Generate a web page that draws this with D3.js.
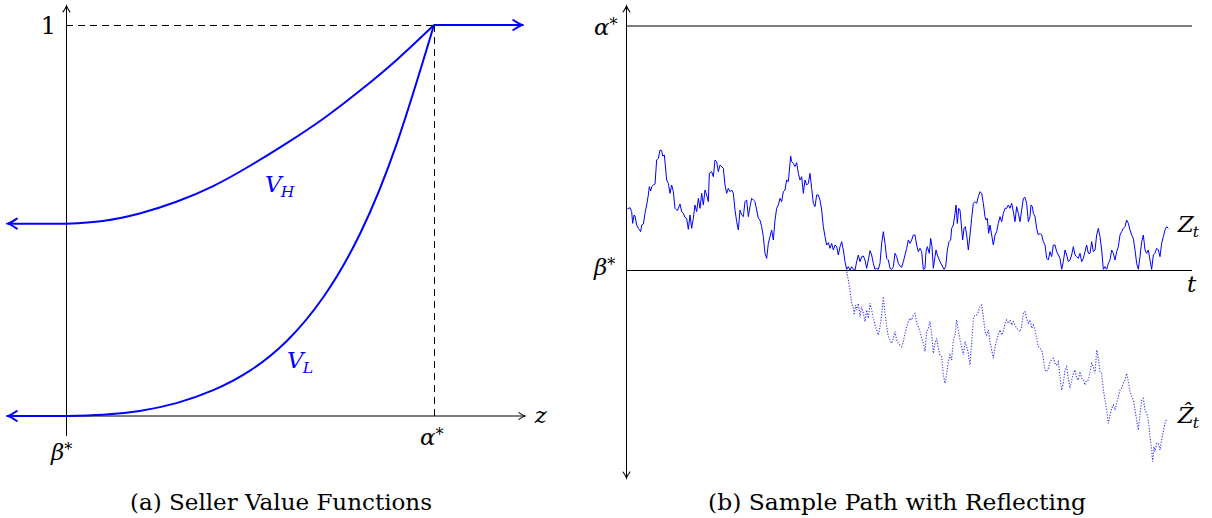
<!DOCTYPE html>
<meta charset="utf-8">
<head>
  <title>Seller value functions and reflected sample path</title>
</head>

<style>
  body {
    margin: 0;
    background: #fff;
  }
</style>

<body>
<svg id="chart" width="1212" height="518"></svg>

<script src="https://cdnjs.cloudflare.com/ajax/libs/d3/7.8.5/d3.min.js"></script>
<script>
  // (a) value functions, z runs from beta* (0) to alpha* (1), value from 0 to 1
  var zGrid = [0, 0.1, 0.2, 0.3, 0.4, 0.5, 0.6, 0.7, 0.8, 0.9, 1];
  var vhValues = [0.492, 0.499, 0.518, 0.548, 0.588, 0.640, 0.698, 0.761, 0.833, 0.912, 1];
  var vlValues = [0, 0.003, 0.013, 0.033, 0.066, 0.116, 0.192, 0.305, 0.468, 0.700, 1];

  // (b) sample path, beta* = 0 and alpha* = alphaLevel
  var alphaLevel = 7.32;
  var tEnd = 16.98;

  // reflected path Z_t  [t, value]
  var zPath = [[0.04,1.83],[0.12,1.87],[0.17,1.75],[0.20,1.40],[0.24,1.65],[0.27,1.62],[0.32,1.35],
    [0.37,1.25],[0.44,1.15],[0.47,1.35],[0.52,1.38],[0.57,1.70],[0.62,1.95],[0.67,2.25],[0.70,2.50],
    [0.74,2.37],[0.77,2.50],[0.82,2.55],[0.87,2.58],[0.92,3.30],[0.97,3.35],[1.02,3.60],[1.07,3.58],
    [1.10,3.42],[1.15,3.45],[1.22,2.70],[1.27,2.60],[1.32,2.30],[1.37,2.55],[1.42,2.35],[1.47,1.85],
    [1.54,1.78],[1.62,1.98],[1.67,1.75],[1.72,1.70],[1.77,1.58],[1.82,1.55],[1.87,1.22],[1.92,1.65],
    [1.97,1.25],[2.02,1.55],[2.07,1.95],[2.12,1.75],[2.17,2.15],[2.22,1.85],[2.27,2.30],[2.32,1.95],
    [2.37,2.40],[2.42,2.25],[2.47,2.05],[2.50,2.90],[2.57,2.95],[2.62,2.80],[2.67,3.30],[2.72,3.25],
    [2.77,2.95],[2.82,3.15],[2.87,3.10],[2.92,3.05],[2.97,2.55],[3.02,2.30],[3.07,2.45],[3.12,2.35],
    [3.17,2.40],[3.22,2.30],[3.27,1.80],[3.32,1.45],[3.37,1.20],[3.42,1.80],[3.47,1.65],[3.52,1.60],
    [3.57,2.05],[3.62,2.10],[3.67,1.60],[3.72,1.90],[3.77,2.15],[3.82,2.10],[3.87,2.05],[3.92,1.80],
    [3.97,1.55],[4.02,1.50],[4.07,1.30],[4.12,1.00],[4.17,0.50],[4.22,0.35],[4.27,0.80],[4.32,1.00],
    [4.37,1.20],[4.42,0.90],[4.47,1.50],[4.52,1.85],[4.57,1.95],[4.62,2.15],[4.67,2.05],[4.72,2.35],
    [4.77,2.40],[4.82,2.70],[4.87,2.65],[4.92,3.20],[4.94,3.42],[4.97,3.25],[5.02,3.20],[5.07,3.10],
    [5.12,3.22],[5.17,2.90],[5.22,2.70],[5.27,2.80],[5.32,2.30],[5.37,2.70],[5.42,2.55],[5.47,2.60],
    [5.52,2.90],[5.57,2.45],[5.62,2.00],[5.67,1.90],[5.72,2.25],[5.77,2.25],[5.82,2.10],[5.87,1.80],
    [5.92,1.30],[5.97,1.00],[6.02,0.75],[6.07,0.82],[6.12,0.65],[6.17,0.80],[6.22,0.60],[6.27,0.75],
    [6.32,0.70],[6.37,0.45],[6.42,0.70],[6.47,0.85],[6.52,0.60],[6.57,0.25],[6.62,0.02],[6.67,0.10],
    [6.72,0.00],[6.77,0.10],[6.82,0.02],[6.87,0.00],[6.92,0.25],[6.97,0.45],[7.02,0.25],[7.07,0.40],
    [7.12,0.42],[7.17,0.30],[7.22,0.05],[7.27,0.30],[7.32,0.58],[7.37,0.45],[7.42,0.20],[7.47,0.02],
    [7.52,0.05],[7.57,0.02],[7.62,0.20],[7.67,0.80],[7.72,1.15],[7.77,0.80],[7.82,0.35],[7.87,0.30],
    [7.92,0.05],[7.97,0.02],[8.02,0.10],[8.07,0.50],[8.12,0.40],[8.17,0.20],[8.22,0.12],[8.27,0.08],
    [8.32,0.25],[8.37,0.45],[8.42,0.65],[8.47,0.90],[8.52,0.80],[8.57,0.90],[8.62,1.05],[8.67,1.05],
    [8.72,0.75],[8.77,0.55],[8.82,0.65],[8.87,0.55],[8.92,0.02],[8.97,0.05],[9.00,0.55],[9.04,0.70],
    [9.10,0.50],[9.14,0.95],[9.18,0.70],[9.22,0.05],[9.27,0.40],[9.30,0.60],[9.34,0.45],[9.40,0.30],
    [9.47,0.15],[9.54,0.02],[9.59,0.10],[9.64,0.60],[9.69,0.85],[9.74,0.90],[9.77,1.25],[9.82,1.35],
    [9.87,1.70],[9.90,1.95],[9.94,1.40],[9.98,1.85],[10.02,1.80],[10.06,1.35],[10.10,0.90],[10.14,1.25],
    [10.18,1.30],[10.22,1.05],[10.27,0.60],[10.32,1.05],[10.37,1.55],[10.42,2.00],[10.47,2.05],[10.52,2.00],
    [10.57,2.20],[10.62,2.35],[10.67,2.30],[10.72,2.00],[10.77,1.60],[10.80,1.50],[10.84,1.55],[10.88,1.10],
    [10.92,1.35],[10.97,1.05],[11.02,0.75],[11.07,1.05],[11.12,1.15],[11.17,1.40],[11.22,1.60],[11.27,1.45],
    [11.32,1.70],[11.37,1.85],[11.42,1.85],[11.47,1.95],[11.52,1.85],[11.57,2.00],[11.62,1.75],[11.67,1.45],
    [11.72,1.90],[11.77,1.70],[11.82,1.45],[11.87,1.80],[11.92,2.15],[11.97,2.18],[12.02,2.00],[12.07,1.45],
    [12.12,1.60],[12.15,1.95],[12.19,1.90],[12.22,1.70],[12.27,1.60],[12.32,1.25],[12.37,1.05],[12.42,1.10],
    [12.47,1.05],[12.52,0.85],[12.57,0.75],[12.62,0.35],[12.67,0.30],[12.72,0.55],[12.77,0.40],[12.82,0.75],
    [12.87,0.75],[12.92,0.55],[12.97,0.45],[13.02,0.35],[13.07,0.02],[13.12,0.25],[13.17,0.60],[13.22,0.45],
    [13.27,0.25],[13.32,0.30],[13.37,0.45],[13.42,0.70],[13.47,0.45],[13.52,0.40],[13.57,0.35],[13.62,0.50],
    [13.67,0.25],[13.72,0.35],[13.77,0.55],[13.82,0.75],[13.87,0.50],[13.92,0.50],[13.97,0.85],[14.02,0.55],
    [14.07,0.60],[14.12,1.05],[14.17,1.25],[14.22,1.00],[14.27,0.60],[14.32,0.02],[14.37,0.10],[14.42,0.02],
    [14.47,0.20],[14.52,0.30],[14.57,0.60],[14.62,0.50],[14.67,0.30],[14.72,0.55],[14.77,0.70],[14.82,1.05],
    [14.87,1.15],[14.92,1.25],[14.97,1.30],[15.02,1.50],[15.07,1.40],[15.12,1.20],[15.17,1.05],[15.22,0.95],
    [15.27,0.60],[15.32,0.20],[15.37,0.02],[15.42,0.40],[15.47,0.85],[15.52,1.05],[15.57,0.60],[15.62,0.50],
    [15.67,0.60],[15.72,0.30],[15.77,0.02],[15.82,0.45],[15.87,0.50],[15.92,0.65],[15.97,0.60],[16.02,0.40],
    [16.07,0.80],[16.12,1.00],[16.17,1.20],[16.22,1.30],[16.27,1.25]];

  // free (unreflected) path Zhat_t after the first hit of beta*
  var zHatPath = [[6.62,-0.05],[6.67,-0.30],[6.72,-0.60],[6.77,-1.00],[6.82,-1.15],[6.85,-1.35],[6.89,-1.05],
    [6.92,-1.20],[6.97,-1.00],[7.02,-1.40],[7.07,-1.10],[7.12,-1.30],[7.17,-1.55],[7.22,-1.20],[7.27,-1.45],
    [7.32,-1.00],[7.37,-1.20],[7.42,-1.45],[7.47,-1.65],[7.52,-1.80],[7.57,-1.95],[7.62,-1.70],[7.67,-1.35],
    [7.72,-0.80],[7.77,-1.30],[7.82,-1.70],[7.87,-2.00],[7.92,-2.10],[7.97,-2.20],[8.02,-2.05],[8.07,-1.85],
    [8.12,-2.10],[8.17,-2.20],[8.22,-2.25],[8.27,-2.30],[8.32,-2.15],[8.37,-1.90],[8.42,-1.70],[8.47,-1.55],
    [8.52,-1.45],[8.57,-1.50],[8.62,-1.35],[8.67,-1.30],[8.72,-1.60],[8.77,-1.70],[8.82,-1.85],[8.87,-2.05],
    [8.92,-2.20],[8.97,-2.45],[9.02,-1.85],[9.07,-1.75],[9.12,-1.55],[9.17,-1.90],[9.22,-2.50],[9.27,-2.20],
    [9.32,-2.05],[9.37,-2.35],[9.42,-2.55],[9.47,-2.60],[9.52,-3.15],[9.57,-3.40],[9.62,-3.10],[9.67,-2.75],
    [9.72,-2.55],[9.77,-2.70],[9.82,-2.10],[9.87,-1.95],[9.92,-1.50],[9.97,-1.80],[10.02,-2.10],[10.07,-2.30],
    [10.12,-2.55],[10.17,-2.15],[10.22,-2.30],[10.27,-2.50],[10.32,-2.85],[10.37,-2.20],[10.42,-1.45],[10.47,-1.35],
    [10.52,-1.35],[10.57,-1.25],[10.62,-1.10],[10.67,-1.05],[10.72,-1.40],[10.77,-1.85],[10.82,-1.95],[10.87,-1.80],
    [10.92,-2.15],[10.97,-2.40],[11.02,-2.65],[11.07,-2.30],[11.12,-2.10],[11.17,-1.95],[11.22,-1.80],[11.27,-1.95],
    [11.32,-1.85],[11.37,-1.60],[11.42,-1.50],[11.47,-1.60],[11.52,-1.50],[11.57,-1.65],[11.62,-1.55],[11.72,-1.75],
    [11.82,-1.85],[11.87,-1.70],[11.92,-1.30],[11.97,-1.25],[12.02,-1.45],[12.07,-1.60],[12.12,-1.50],[12.17,-1.75],
    [12.22,-1.65],[12.27,-1.80],[12.32,-2.05],[12.37,-2.30],[12.42,-2.35],[12.47,-2.40],[12.52,-2.65],[12.57,-3.00],
    [12.62,-3.05],[12.67,-2.95],[12.72,-2.75],[12.77,-2.70],[12.82,-2.65],[12.87,-2.80],[12.92,-2.85],[12.97,-2.75],
    [13.02,-3.20],[13.07,-3.60],[13.12,-3.40],[13.17,-3.00],[13.22,-2.90],[13.27,-3.25],[13.32,-3.55],[13.37,-3.30],
    [13.42,-3.10],[13.47,-3.00],[13.52,-3.25],[13.57,-3.30],[13.62,-3.05],[13.67,-3.25],[13.72,-3.30],[13.77,-3.45],
    [13.82,-3.30],[13.87,-3.30],[13.92,-3.05],[13.97,-2.80],[14.02,-2.90],[14.07,-3.10],[14.12,-2.40],[14.17,-2.65],
    [14.22,-3.05],[14.27,-3.10],[14.32,-3.60],[14.37,-3.90],[14.42,-4.20],[14.47,-4.60],[14.52,-4.35],[14.57,-4.15],
    [14.62,-4.05],[14.67,-4.20],[14.72,-4.00],[14.77,-3.80],[14.82,-3.60],[14.87,-3.55],[14.92,-3.40],[14.97,-3.30],
    [15.02,-3.10],[15.07,-3.35],[15.12,-3.65],[15.17,-3.80],[15.22,-3.90],[15.27,-4.20],[15.32,-4.50],[15.37,-4.80],
    [15.42,-4.35],[15.47,-3.90],[15.52,-3.85],[15.57,-4.20],[15.62,-4.30],[15.67,-4.50],[15.72,-5.00],[15.77,-5.40],
    [15.80,-5.75],[15.84,-5.30],[15.87,-5.45],[15.92,-5.20],[15.97,-5.20],[16.02,-5.40],[16.07,-5.10],[16.12,-4.85],
    [16.17,-4.60],[16.22,-4.45]];

  var captions = ["(a) Seller Value Functions", "(b) Sample Path with Reflecting"];

  var serif = "'DejaVu Serif', 'Noto Serif', serif";

  var svg = d3.select('#chart');
  var blue = '#0000ff';
  var defs = svg.append('defs');

  function marker(id, color, len, half, width) {
    defs.append('marker')
      .attr('id', id)
      .attr('viewBox', (-len - 3) + ' ' + (-half - 3) + ' ' + (len + 5) + ' ' + (2 * half + 6))
      .attr('markerWidth', len + 5)
      .attr('markerHeight', 2 * half + 6)
      .attr('markerUnits', 'userSpaceOnUse')
      .attr('refX', 0)
      .attr('refY', 0)
      .attr('orient', 'auto-start-reverse')
      .append('path')
      .attr('d', 'M' + (-len) + ',' + (-half) + ' Q' + (-len * 0.3) + ',' + (-half * 0.15) + ' 0,0 Q' +
        (-len * 0.3) + ',' + (half * 0.15) + ' ' + (-len) + ',' + half)
      .attr('fill', 'none')
      .attr('stroke', color)
      .attr('stroke-width', width)
      .attr('stroke-linecap', 'round');
  }
  marker('arrowBlack', '#000', 6, 3.4, 1.1);
  marker('arrowBlue', blue, 9, 5, 2);

  function mathText(g, x, y, base, sup, sub, opts) {
    opts = opts || {};
    var size = opts.size || 23;
    var t = g.append('text')
      .attr('x', x)
      .attr('y', y)
      .attr('font-family', serif)
      .attr('font-size', size)
      .attr('fill', opts.color || '#000')
      .attr('text-anchor', opts.anchor || 'start');
    t.append('tspan').attr('font-style', opts.upright ? 'normal' : 'italic').text(base);
    if (sup) t.append('tspan').attr('font-size', size * 0.7).attr('dy', -size * 0.2).text(sup);
    if (sub) t.append('tspan').attr('font-style', 'italic').attr('font-size', size * 0.68)
      .attr('dy', size * 0.22).attr('dx', -1).text(sub);
    return t;
  }

  function caption(g, x, text, width) {
    g.append('text')
      .attr('x', x).attr('y', 510)
      .attr('text-anchor', 'middle')
      .attr('font-family', serif)
      .attr('font-size', 23)
      .attr('textLength', width)
      .attr('lengthAdjust', 'spacingAndGlyphs')
      .text(text);
  }

  // ---------- panel (a) ----------
  var xa = d3.scaleLinear().domain([0, 1]).range([66, 434]);
  var ya = d3.scaleLinear().domain([0, 1]).range([416, 25]);
  var ga = svg.append('g');

  // dashed guides
  ga.append('line')
    .attr('x1', xa(0)).attr('x2', xa(1)).attr('y1', ya(1) + 0.5).attr('y2', ya(1) + 0.5)
    .attr('stroke', '#000').attr('stroke-width', 1).attr('stroke-dasharray', '7,5');
  ga.append('line')
    .attr('x1', xa(1) + 0.5).attr('x2', xa(1) + 0.5).attr('y1', ya(1)).attr('y2', ya(0))
    .attr('stroke', '#000').attr('stroke-width', 1).attr('stroke-dasharray', '7,5');

  // axes
  ga.append('line')
    .attr('x1', xa(0)).attr('x2', xa(1.247)).attr('y1', ya(0)).attr('y2', ya(0))
    .attr('stroke', '#000').attr('stroke-width', 1.1).attr('marker-end', 'url(#arrowBlack)');
  ga.append('line')
    .attr('x1', xa(0) + 0.5).attr('x2', xa(0) + 0.5).attr('y1', ya(-0.051)).attr('y2', ya(1.049))
    .attr('stroke', '#000').attr('stroke-width', 1).attr('marker-end', 'url(#arrowBlack)');

  var lineA = d3.line()
    .x(function(d, i) { return xa(zGrid[i]); })
    .y(function(d) { return ya(d); })
    .curve(d3.curveNatural);

  [vhValues, vlValues].forEach(function(vals) {
    ga.append('path')
      .attr('d', lineA(vals))
      .attr('fill', 'none')
      .attr('stroke', blue)
      .attr('stroke-width', 2);
    ga.append('line')
      .attr('x1', xa(0)).attr('x2', xa(-0.158)).attr('y1', ya(vals[0])).attr('y2', ya(vals[0]))
      .attr('stroke', blue).attr('stroke-width', 2).attr('marker-end', 'url(#arrowBlue)');
  });
  ga.append('line')
    .attr('x1', xa(1)).attr('x2', xa(1.24)).attr('y1', ya(1)).attr('y2', ya(1))
    .attr('stroke', blue).attr('stroke-width', 2).attr('marker-end', 'url(#arrowBlue)');

  mathText(ga, xa(0) - 10, ya(1) + 9, '1', null, null, { anchor: 'end', upright: true, size: 24 });
  mathText(ga, xa(1.274), ya(0) + 7, 'z');
  mathText(ga, xa(1) - 14, ya(0) + 29, '\u03b1', '*');
  mathText(ga, xa(0) - 15, ya(0) + 44, '\u03b2', '*');
  mathText(ga, 265, 192, 'V', null, 'H', { color: blue });
  mathText(ga, 287, 368, 'V', null, 'L', { color: blue });

  caption(ga, 281, captions[0], 302);

  // ---------- panel (b) ----------
  var xb = d3.scaleLinear().domain([0, tEnd]).range([626, 1192]);
  var yb = d3.scaleLinear().domain([0, alphaLevel]).range([270, 26]);
  var gb = svg.append('g');

  gb.append('line')
    .attr('x1', xb(0) + 0.5).attr('x2', xb(0) + 0.5).attr('y1', yb(-6.24)).attr('y2', yb(7.92))
    .attr('stroke', '#000').attr('stroke-width', 1)
    .attr('marker-start', 'url(#arrowBlack)').attr('marker-end', 'url(#arrowBlack)');
  gb.append('line')
    .attr('x1', xb(0)).attr('x2', xb(tEnd)).attr('y1', yb(alphaLevel)).attr('y2', yb(alphaLevel))
    .attr('stroke', '#000').attr('stroke-width', 1.1);
  gb.append('line')
    .attr('x1', xb(0)).attr('x2', xb(tEnd)).attr('y1', yb(0) + 0.5).attr('y2', yb(0) + 0.5)
    .attr('stroke', '#000').attr('stroke-width', 1);

  var lineB = d3.line()
    .x(function(d) { return xb(d[0]); })
    .y(function(d) { return yb(d[1]); });

  gb.append('path')
    .attr('d', lineB(zHatPath))
    .attr('fill', 'none')
    .attr('stroke', '#2020ff')
    .attr('stroke-opacity', 0.9)
    .attr('stroke-width', 1.1)
    .attr('stroke-dasharray', '1.2,1.6');
  gb.append('path')
    .attr('d', lineB(zPath))
    .attr('fill', 'none')
    .attr('stroke', blue)
    .attr('stroke-width', 1);

  mathText(gb, xb(0) - 32, yb(alphaLevel) + 9, '\u03b1', '*');
  mathText(gb, xb(0) - 32, yb(0) + 5, '\u03b2', '*');
  mathText(gb, xb(tEnd) - 5, yb(0) + 22, 't');
  mathText(gb, xb(16.55), yb(1.15), 'Z', null, 't');
  mathText(gb, xb(16.55), yb(-4.6), '\u1E90', null, 't');

  caption(gb, 897, captions[1], 378);
</script>
</body>
</html>
